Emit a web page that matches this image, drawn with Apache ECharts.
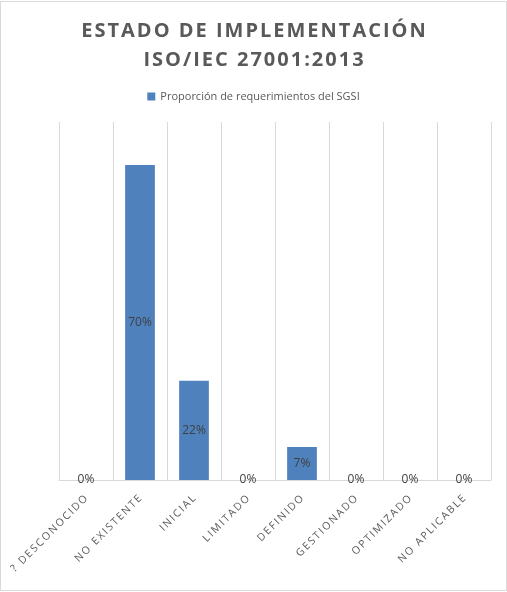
<!DOCTYPE html>
<html>
<head>
<meta charset="utf-8">
<script src="https://cdn.jsdelivr.net/npm/echarts@6/dist/echarts.min.js"></script>
<style>
  html, body { margin: 0; padding: 0; background: #fff; }
  #chart { width: 505px; height: 588px; border: 1px solid #d9d9d9; margin: 1px 0 0 0; }
</style>
</head>
<body>
<div id="chart"></div>
<script>
// datos del grafico
var categorias = ['? DESCONOCIDO', 'NO EXISTENTE', 'INICIAL', 'LIMITADO', 'DEFINIDO', 'GESTIONADO', 'OPTIMIZADO', 'NO APLICABLE'];
var proporcion = [0, 0.704, 0.222, 0, 0.074, 0, 0, 0];
var nombreSerie = 'Proporción de requerimientos del SGSI';
var tituloLineas = ['ESTADO DE IMPLEMENTACIÓN', 'ISO/IEC 27001:2013'];

// separa las letras (no hay letterSpacing en canvas de echarts)
function espaciar(txt, sep) {
    return txt.split('').join(sep);
}

var myChart = echarts.init(document.getElementById('chart'));
var option = {
    animation: false,
    backgroundColor: '#fff',
    title: {
        text: tituloLineas.map(function (t) { return espaciar(t, '\u200A'); }).join('\n'),
        left: 'center',
        top: 10,
        textStyle: {
            fontFamily: 'Open Sans',
            fontSize: 20,
            fontWeight: 'bold',
            color: '#595959',
            lineHeight: 29
        }
    },
    legend: {
        data: [nombreSerie],
        top: 84,
        left: 'center',
        itemWidth: 8,
        itemHeight: 8,
        itemGap: 4,
        icon: 'rect',
        textStyle: {
            fontFamily: 'Open Sans',
            fontSize: 11,
            color: '#595959'
        }
    },
    grid: {
        left: 58,
        right: 15,
        top: 120,
        bottom: 110,
        containLabel: false
    },
    xAxis: [
        {
            type: 'category',
            data: categorias,
            axisLine: { lineStyle: { color: '#d9d9d9' } },
            axisTick: { show: false },
            splitLine: { show: true, lineStyle: { color: '#d9d9d9', width: 1 } },
            axisLabel: {
                rotate: 45,
                interval: 0,
                margin: 17,
                fontFamily: 'Open Sans',
                fontSize: 10.5,
                color: '#595959',
                formatter: function (v) { return espaciar(v, '\u2009'); }
            }
        }
    ],
    yAxis: [
        {
            type: 'value',
            min: 0,
            max: 0.8,
            show: false,
            splitLine: { show: false }
        }
    ],
    series: [
        {
            name: nombreSerie,
            type: 'bar',
            barWidth: '55%',
            data: proporcion,
            itemStyle: { color: '#4f81bd' },
            label: {
                show: true,
                position: 'inside',
                fontFamily: 'Open Sans',
                fontSize: 12,
                color: '#404040',
                formatter: function (p) { return Math.round(p.value * 100) + '%'; }
            }
        }
    ]
};
myChart.setOption(option);
</script>
</body>
</html>
